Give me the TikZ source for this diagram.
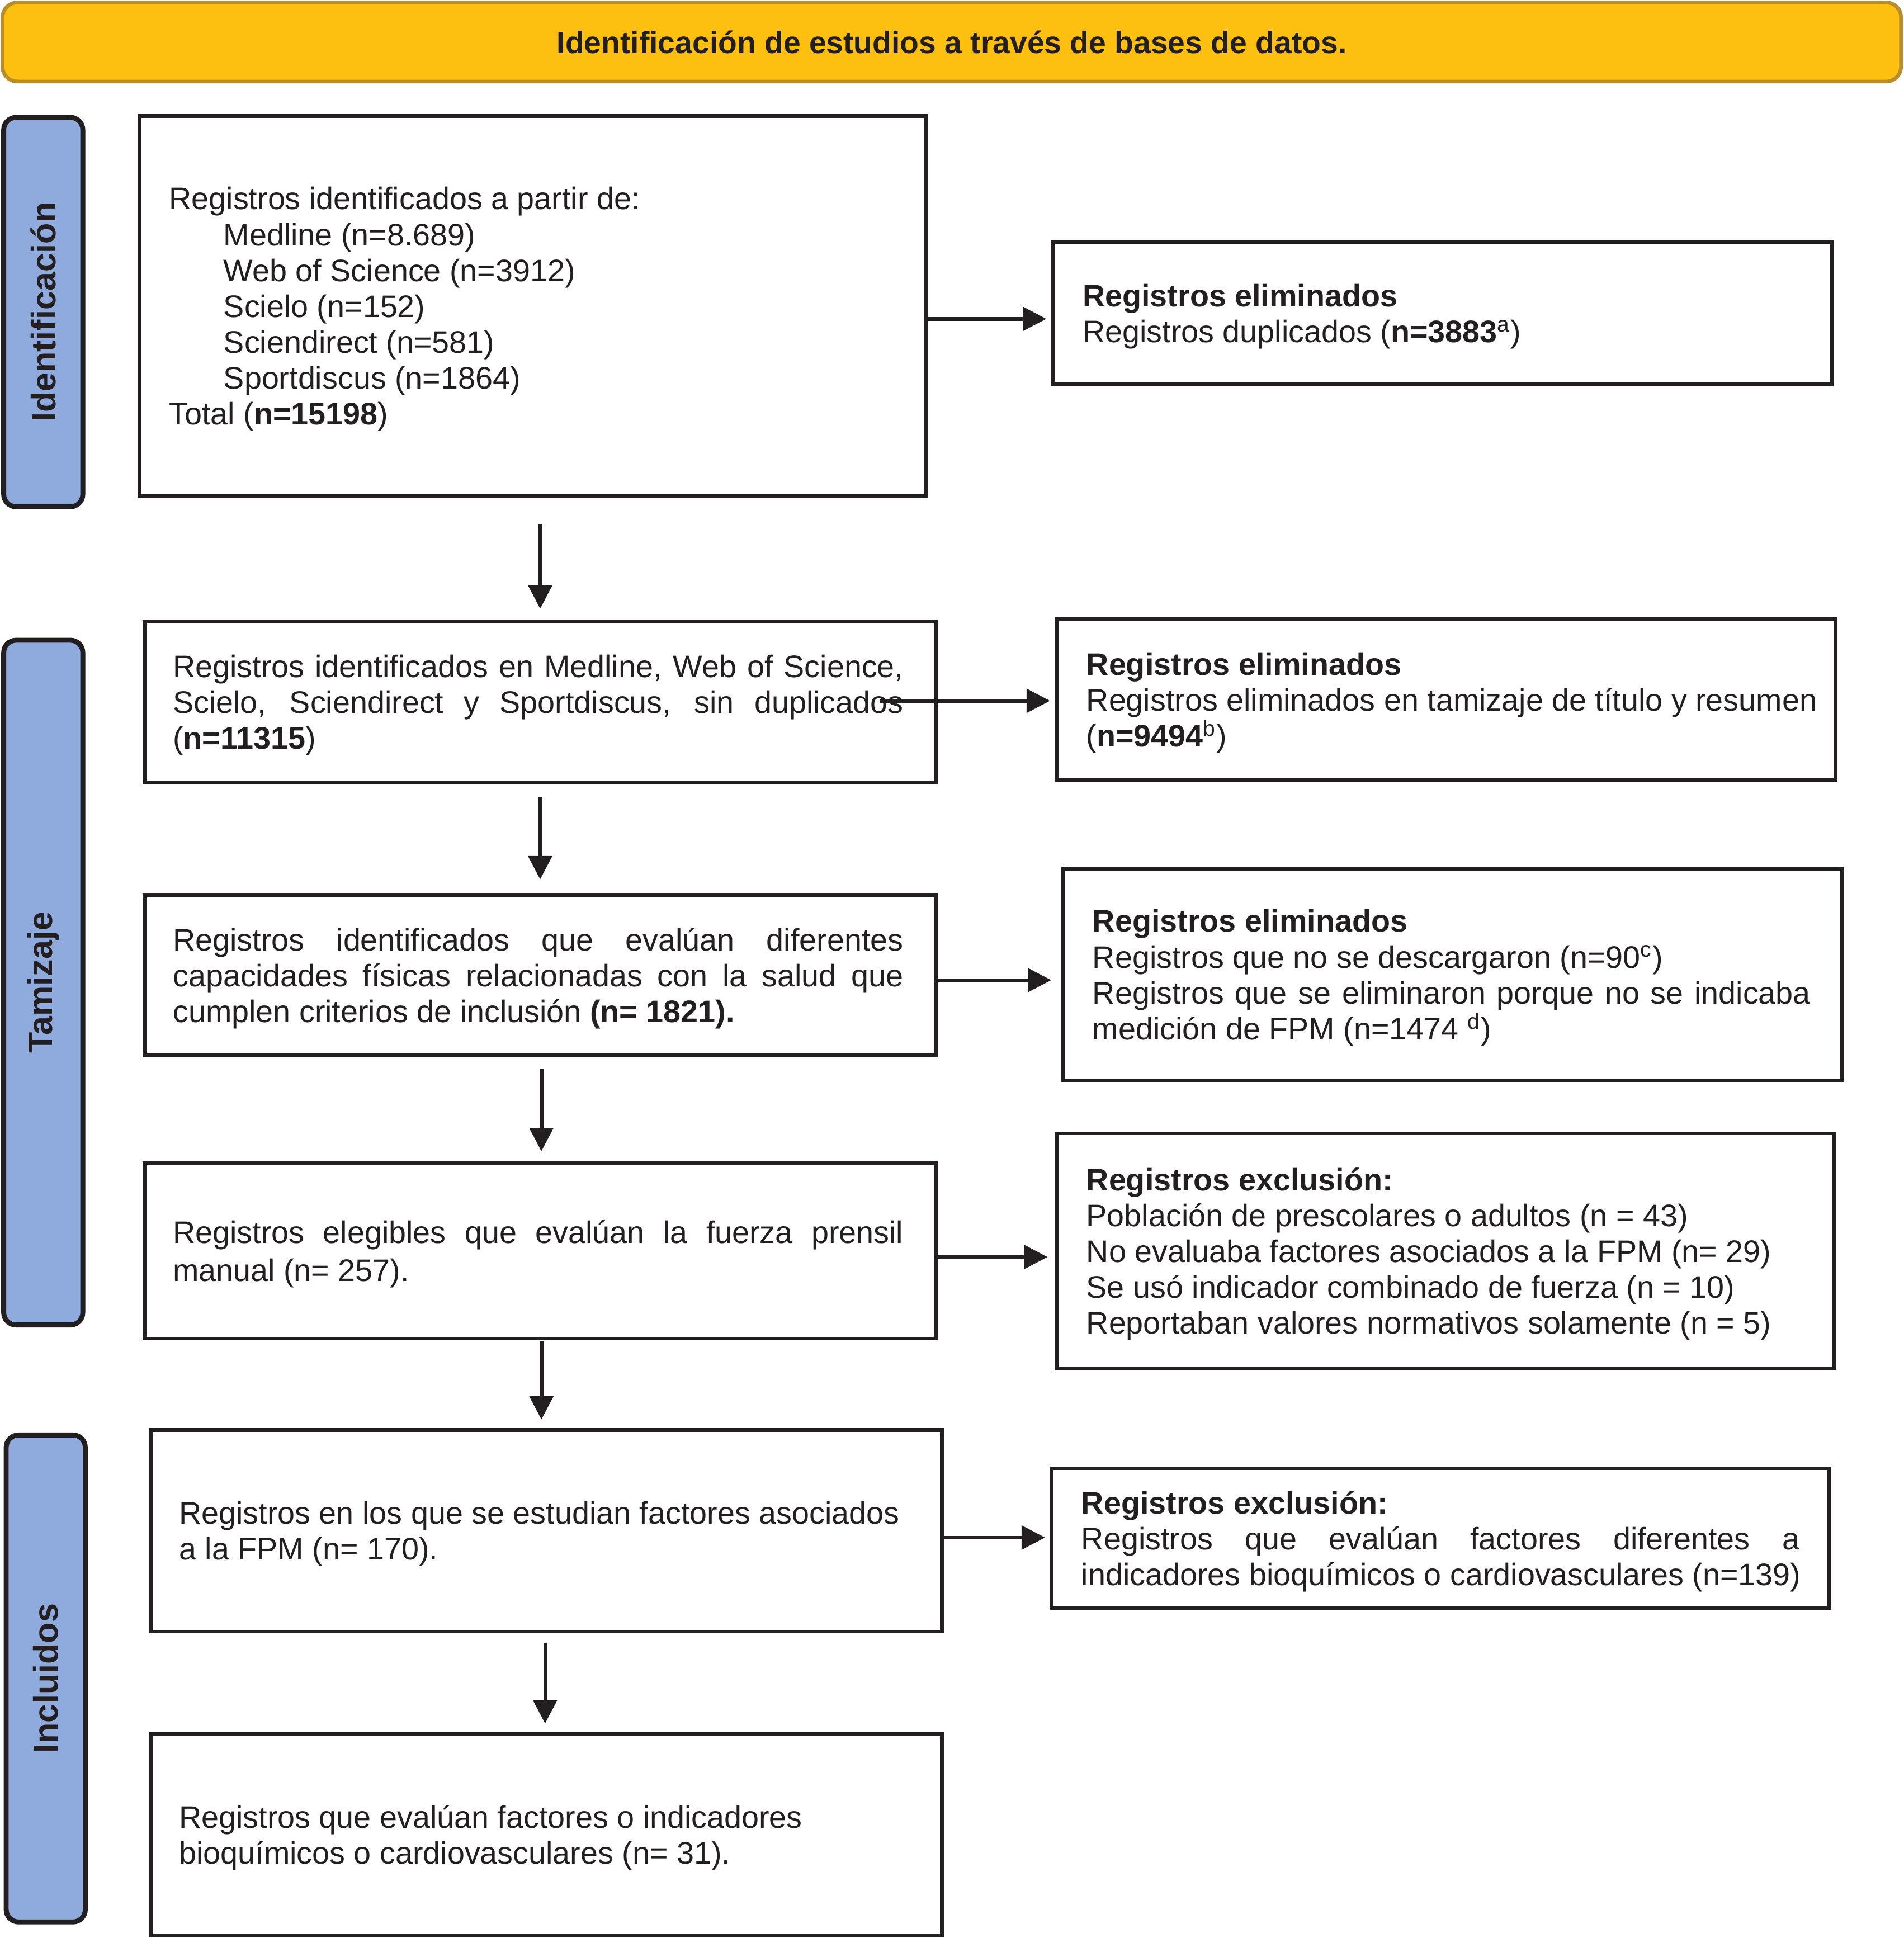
\documentclass[tikz,border=0pt]{standalone}
\usepackage{fontspec}
\setmainfont{Liberation Sans}
\usetikzlibrary{arrows.meta}
\definecolor{ink}{HTML}{231F20}
\definecolor{bannerfill}{HTML}{FDC010}
\definecolor{bannerline}{HTML}{B98C2E}
\definecolor{sidefill}{HTML}{8FAADC}
\newcommand\bodyfs{\fontsize{12.6}{14.5}\selectfont}
\newcommand\jline[1]{\makebox[290.5pt][s]{#1}}
\newcommand\jlineB[1]{\makebox[295.5pt][s]{#1}}
\begin{document}
\begin{tikzpicture}[x=0.5pt,y=-0.5pt,
  boxshape/.style={draw=ink,line width=1.5pt,rectangle,inner sep=0pt},
  boxtext/.style={anchor=west,align=left,inner sep=0pt,font=\bodyfs,text=ink,yshift=-1.3pt},
  sidebox/.style={draw=ink,fill=sidefill,line width=2pt,rounded corners=5pt},
  sidetext/.style={rotate=90,font=\fontsize{13.8}{16}\selectfont\bfseries,text=ink},
  arr/.style={draw=ink,line width=1.5pt,-{Triangle[length=9.5pt,width=9.5pt]}}]
\useasboundingbox (0,0) rectangle (1540,1568);

% banner
\node[draw=bannerline,fill=bannerfill,line width=1.5pt,rounded corners=6pt,
  minimum width=768pt,minimum height=32pt,inner sep=0pt,
  font=\fontsize{12.5}{14.5}\selectfont\bfseries,text=ink] (banner) at (770,34)
  {Identificación de estudios a través de bases de datos.};

% side labels
\node[sidebox,minimum width=32pt,minimum height=157.5pt] (S1) at (35,252.5) {};
\node[sidetext] (S1t) at (S1.center) {Identificación};
\node[sidebox,minimum width=32pt,minimum height=277pt] (S2) at (35,795) {};
\node[sidetext] (S2t) at (S2.center) {Tamizaje};
\node[sidebox,minimum width=32pt,minimum height=197pt] (S3) at (37,1358) {};
\node[sidetext] (S3t) at (S3.center) {Incluidos};

% left column boxes
\node[boxshape,minimum width=318pt,minimum height=153.5pt] (B1) at (431,247.5) {};
\node[boxtext] (B1t) at ([xshift=12.5pt]B1.west) {Registros identificados a partir de:\\
\hspace*{22pt}Medline (n=8.689)\\
\hspace*{22pt}Web of Science (n=3912)\\
\hspace*{22pt}Scielo (n=152)\\
\hspace*{22pt}Sciendirect (n=581)\\
\hspace*{22pt}Sportdiscus (n=1864)\\
Total (\textbf{n=15198})};

\node[boxshape,minimum width=320pt,minimum height=65pt] (B2) at (437,568) {};
\node[boxtext] (B2t) at ([xshift=12pt]B2.west) {\jlineB{Registros identificados en Medline, Web of Science,}\\
\jlineB{Scielo, Sciendirect y Sportdiscus, sin duplicados}\\
(\textbf{n=11315})};

\node[boxshape,minimum width=320pt,minimum height=65pt] (B3) at (437,789) {};
\node[boxtext] (B3t) at ([xshift=12pt]B3.west) {\jlineB{Registros identificados que evalúan diferentes}\\
\jlineB{capacidades físicas relacionadas con la salud que}\\
cumplen criterios de inclusión \textbf{(n= 1821).}};

\node[boxshape,minimum width=320pt,minimum height=71pt] (B4) at (437,1012) {};
\node[boxtext] (B4t) at ([xshift=12pt]B4.west) {\jlineB{Registros elegibles que evalúan la fuerza prensil}\\[1pt]
manual (n= 257).};

\node[boxshape,minimum width=320pt,minimum height=81.5pt] (B5) at (442,1238.5) {};
\node[boxtext] (B5t) at ([xshift=12pt]B5.west) {Registros en los que se estudian factores asociados\\
a la FPM (n= 170).};

\node[boxshape,minimum width=320pt,minimum height=81.5pt] (B6) at (442,1484.5) {};
\node[boxtext] (B6t) at ([xshift=12pt]B6.west) {Registros que evalúan factores o indicadores\\
bioquímicos o cardiovasculares (n= 31).};

% right column boxes
\node[boxshape,minimum width=315pt,minimum height=57.5pt] (R1) at (1167,253.5) {};
\node[boxtext] (R1t) at ([xshift=12.5pt]R1.west) {\textbf{Registros eliminados}\\
Registros duplicados (\textbf{n=3883}\textsuperscript{a})};

\node[boxshape,minimum width=315pt,minimum height=65pt] (R2) at (1170,566) {};
\node[boxtext] (R2t) at ([xshift=12.5pt]R2.west) {\textbf{Registros eliminados}\\
Registros eliminados en tamizaje de título y resumen\\
(\textbf{n=9494}\textsuperscript{b})};

\node[boxshape,minimum width=315pt,minimum height=85.5pt] (R3) at (1175,788.5) {};
\node[boxtext] (R3t) at ([xshift=12.5pt]R3.west) {\textbf{Registros eliminados}\\
Registros que no se descargaron (n=90\textsuperscript{c})\\
\jline{Registros que se eliminaron porque no se indicaba}\\
medición de FPM (n=1474 \textsuperscript{d})};

\node[boxshape,minimum width=314.5pt,minimum height=95pt] (R4) at (1169.5,1012) {};
\node[boxtext] (R4t) at ([xshift=12.5pt]R4.west) {\textbf{Registros exclusión:}\\
Población de prescolares o adultos (n = 43)\\
No evaluaba factores asociados a la FPM (n= 29)\\
Se usó indicador combinado de fuerza (n = 10)\\
Reportaban valores normativos solamente (n = 5)};

\node[boxshape,minimum width=314.5pt,minimum height=56.5pt] (R5) at (1165.5,1244.5) {};
\node[boxtext] (R5t) at ([xshift=12.5pt]R5.west) {\textbf{Registros exclusión:}\\
\jline{Registros que evalúan factores diferentes a}\\
indicadores bioquímicos o cardiovasculares (n=139)};

% free ends of connectors
\coordinate (h1) at (0,258);
\coordinate (h2s) at (712,567);
\coordinate (h3) at (0,793);
\coordinate (h4) at (0,1017);
\coordinate (h5) at (0,1244);
\coordinate (v1) at (437,424);
\coordinate (v2) at (437,645);
\coordinate (v3) at (438,865);
\coordinate (v4) at (438,1085);
\coordinate (v5) at (441,1329);

% horizontal connectors
\draw[arr,shorten >=2pt] (B1.east |- h1) -- (R1.west |- h1);
\draw[arr,shorten >=2pt] (h2s) -- (R2.west |- h2s);
\draw[arr,shorten >=4pt] (B3.east |- h3) -- (R3.west |- h3);
\draw[arr,shorten >=3pt] (B4.east |- h4) -- (R4.west |- h4);
\draw[arr,shorten >=2pt] (B5.east |- h5) -- (R5.west |- h5);

% vertical connectors
\draw[arr,shorten >=4.5pt] (v1) -- (v1 |- B2.north);
\draw[arr,shorten >=5.5pt] (v2) -- (v2 |- B3.north);
\draw[arr,shorten >=4pt] (v3) -- (v3 |- B4.north);
\draw[arr,shorten >=3.5pt] (v4) -- (v4 |- B5.north);
\draw[arr,shorten >=3.5pt] (v5) -- (v5 |- B6.north);
\end{tikzpicture}
\end{document}
